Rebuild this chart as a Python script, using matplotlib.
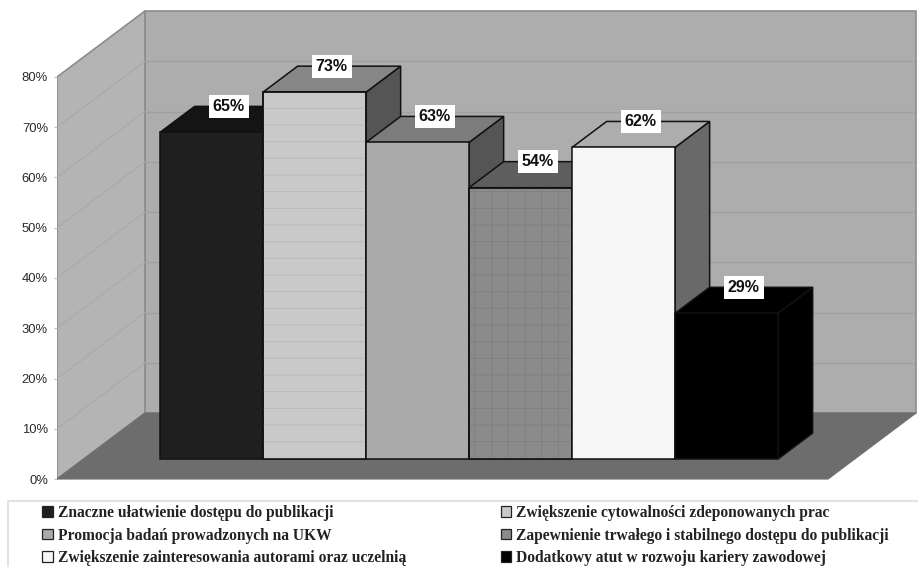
import matplotlib
matplotlib.use('Agg')
import matplotlib.pyplot as plt
from matplotlib.patches import Polygon, Patch, Rectangle

categories = ['Znaczne ułatwienie dostępu do publikacji',
              'Zwiększenie cytowalności zdeponowanych prac',
              'Promocja badań prowadzonych na UKW',
              'Zapewnienie trwałego i stabilnego dostępu do publikacji',
              'Zwiększenie zainteresowania autorami oraz uczelnią',
              'Dodatkowy atut w rozwoju kariery zawodowej']
values = [65, 73, 63, 54, 62, 29]
yticks = [0, 10, 20, 30, 40, 50, 60, 70, 80]
ytick_labels = ['0%', '10%', '20%', '30%', '40%', '50%', '60%', '70%', '80%']

front_colors = ['#1f1f1f', '#c9c9c9', '#aaaaaa', '#8b8b8b', '#f6f6f6', '#000000']
top_colors = ['#141414', '#868686', '#7c7c7c', '#5e5e5e', '#adadad', '#000000']
side_colors = ['#111111', '#555555', '#555555', '#444444', '#696969', '#000000']
hatches = [None, '-', None, '+', None, None]
hatch_colors = [None, '#bababa', None, '#808080', None, None]
legend_order = [0, 2, 4, 1, 3, 5]

# oblique projection used for the fake 3d box
DEPTH_X = 0.854
DEPTH_Y = 13.13
BAR_FRONT = 0.303
BAR_BACK = 0.697
FLOOR_LEFT = -0.741
FLOOR_RIGHT = 6.745
YMAX = 80


def proj(x, v, d):
    return (x + d * DEPTH_X, v + d * DEPTH_Y)


plt.rcParams['hatch.linewidth'] = 0.7
fig = plt.figure(figsize=(9.18, 5.67), dpi=100)
ax = fig.add_axes([57 / 918, 0, 861 / 918, 1])
ax.set_xlim(FLOOR_LEFT, 7.618)
ax.set_ylim(-17.51, 95.32)
for s in ax.spines.values():
    s.set_visible(False)
ax.patch.set_visible(False)
ax.set_xticks([])
ax.set_yticks(yticks)
ax.set_yticklabels(ytick_labels, family='Liberation Sans', fontsize=9.4, color='#2a2a2a')
ax.tick_params(axis='y', length=2, pad=4.5, color='#bbbbbb', width=0.8)

# walls and floor
back = [proj(FLOOR_LEFT, 0, 1), proj(FLOOR_RIGHT, 0, 1), proj(FLOOR_RIGHT, YMAX, 1), proj(FLOOR_LEFT, YMAX, 1)]
side = [proj(FLOOR_LEFT, 0, 0), proj(FLOOR_LEFT, 0, 1), proj(FLOOR_LEFT, YMAX, 1), proj(FLOOR_LEFT, YMAX, 0)]
floor = [proj(FLOOR_LEFT, 0, 0), proj(FLOOR_RIGHT, 0, 0), proj(FLOOR_RIGHT, 0, 1), proj(FLOOR_LEFT, 0, 1)]
ax.add_patch(Polygon(back, facecolor='#adadad', edgecolor='#8c8c8c', lw=1.2, zorder=1))
ax.add_patch(Polygon(side, facecolor='#b4b4b4', edgecolor='#8c8c8c', lw=1.2, zorder=1))
ax.add_patch(Polygon(floor, facecolor='#6d6d6d', edgecolor='#6d6d6d', lw=0.8, zorder=1))

# gridlines run along the side wall and then across the back wall
for t in yticks[1:-1]:
    p0 = proj(FLOOR_LEFT, t, 0)
    p1 = proj(FLOOR_LEFT, t, 1)
    p2 = proj(FLOOR_RIGHT, t, 1)
    ax.plot([p0[0], p1[0]], [p0[1], p1[1]], color='#a9a9a9', lw=0.8, zorder=2)
    ax.plot([p1[0], p2[0]], [p1[1], p2[1]], color='#a0a0a0', lw=1.0, zorder=2)

# bars, left to right so each one covers the side of the previous
base = 0
for i, v in enumerate(values):
    x0 = i
    x1 = i + 1
    front = [proj(x0, base, BAR_FRONT), proj(x1, base, BAR_FRONT), proj(x1, v, BAR_FRONT), proj(x0, v, BAR_FRONT)]
    top = [proj(x0, v, BAR_FRONT), proj(x1, v, BAR_FRONT), proj(x1, v, BAR_BACK), proj(x0, v, BAR_BACK)]
    right = [proj(x1, base, BAR_FRONT), proj(x1, base, BAR_BACK), proj(x1, v, BAR_BACK), proj(x1, v, BAR_FRONT)]
    z = 3 + i
    ax.add_patch(Polygon(right, facecolor=side_colors[i], edgecolor='#111111', lw=1.1, zorder=z))
    ax.add_patch(Polygon(top, facecolor=top_colors[i], edgecolor='#111111', lw=1.1, zorder=z))
    ax.add_patch(Polygon(front, facecolor=front_colors[i], edgecolor='#111111', lw=1.1, zorder=z))
    if hatches[i]:
        ax.add_patch(Polygon(front, facecolor='none', edgecolor=hatch_colors[i], hatch=hatches[i], lw=0, zorder=z))
        ax.add_patch(Polygon(front, facecolor='none', edgecolor='#111111', lw=1.1, zorder=z))

# value labels sit on the back edge of each bar top
for i, v in enumerate(values):
    lx = proj(i + 0.5, v, 0.5)[0]
    ly = proj(i + 0.5, v, BAR_BACK)[1]
    ax.text(lx, ly, '%d%%' % v, ha='center', va='center', family='Liberation Sans', fontweight='bold',
            fontsize=11.5, color='#111111', zorder=20,
            bbox=dict(facecolor='white', edgecolor='none', pad=3))

# legend box runs off the bottom and right of the figure
fig.add_artist(Rectangle((8 / 918, -0.05), 1, 1 - 501 / 567 + 0.05, transform=fig.transFigure,
                         facecolor='white', edgecolor='#e2e2e2', lw=1.5))
handles = [Patch(facecolor=front_colors[i], edgecolor='#222222', lw=0.9) for i in legend_order]
labels = [categories[i] for i in legend_order]
leg = fig.legend(handles, labels, ncol=2, loc='upper left', bbox_to_anchor=(42 / 918, 1 - 505 / 567),
                 frameon=False, borderpad=0, borderaxespad=0,
                 prop=dict(family='Liberation Serif', weight='bold', size=11.2),
                 handlelength=0.68, handleheight=0.68, handletextpad=0.32,
                 labelspacing=0.42, columnspacing=6.1, labelcolor='#222222')

fig.savefig('out.png', dpi=100)
